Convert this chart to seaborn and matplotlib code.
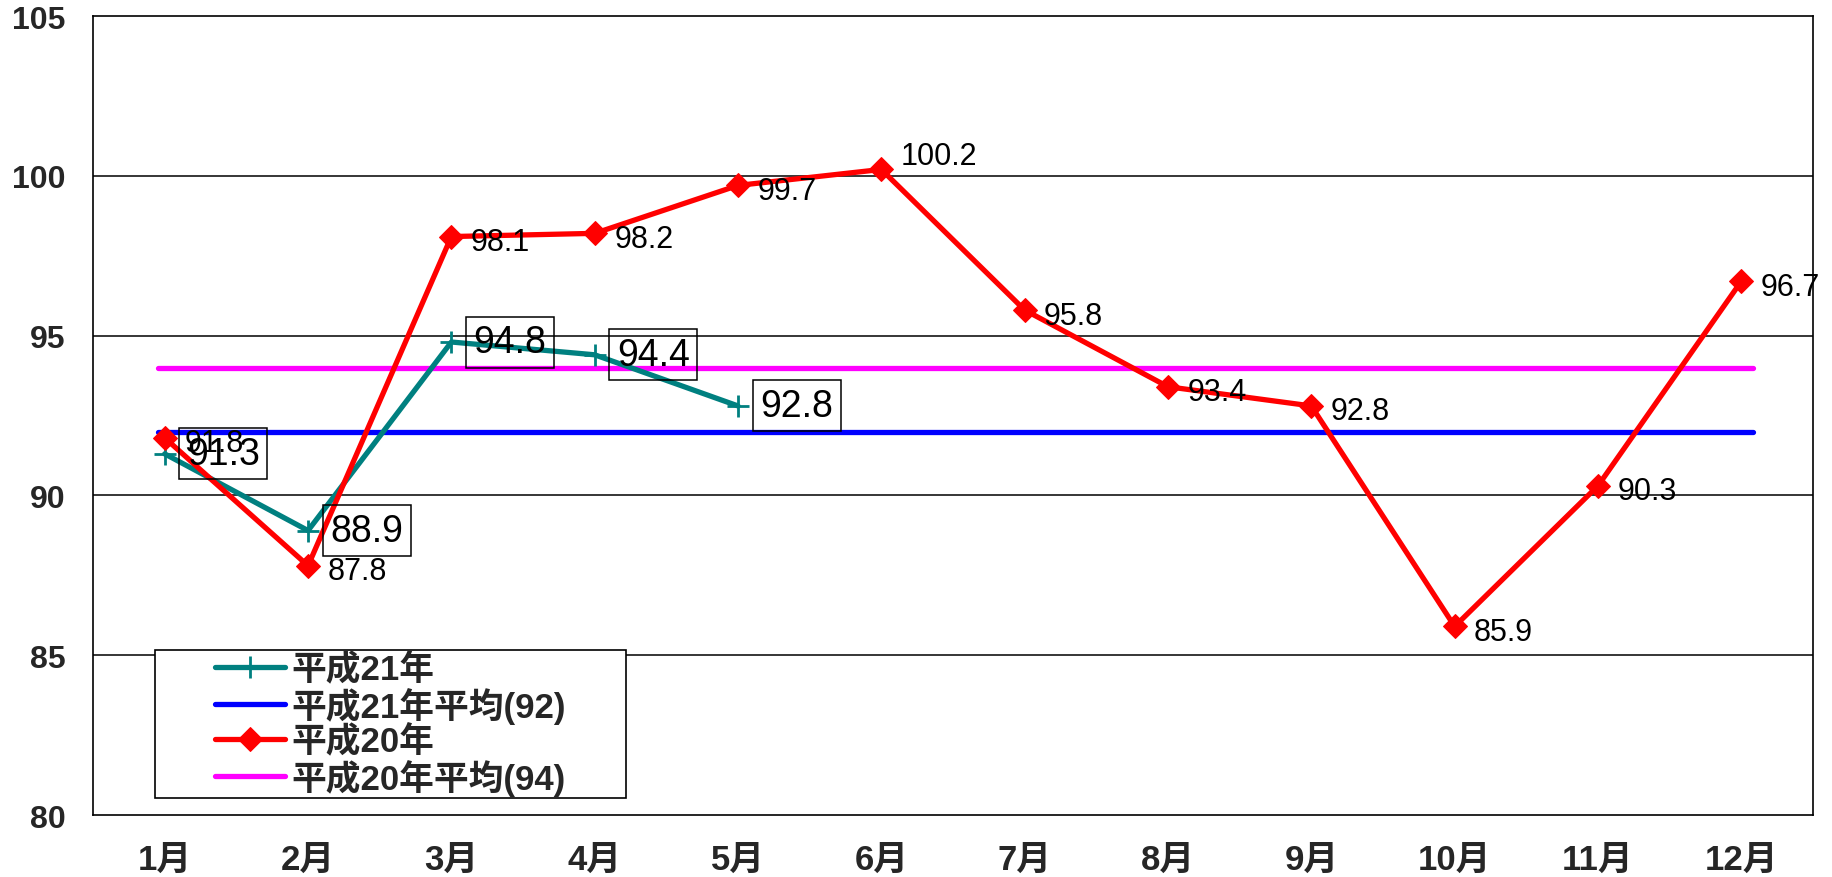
import numpy as np
import pandas as pd
import matplotlib
matplotlib.use('Agg')
import matplotlib.pyplot as plt
from matplotlib.patches import Rectangle
import seaborn as sns

# data
months = ['1月', '2月', '3月', '4月', '5月', '6月', '7月', '8月', '9月', '10月', '11月', '12月']
h21 = [91.3, 88.9, 94.8, 94.4, 92.8]
h20 = [91.8, 87.8, 98.1, 98.2, 99.7, 100.2, 95.8, 93.4, 92.8, 85.9, 90.3, 96.7]
h21_avg = 92
h20_avg = 94
yticks = [80, 85, 90, 95, 100, 105]

sns.set_theme(style='white')
plt.rcParams['font.family'] = ['Liberation Sans', 'Noto Sans CJK JP', 'DejaVu Sans']

fig = plt.figure(figsize=(18.32, 8.78), dpi=100)
ax = fig.add_axes([0.0508, 0.0706, 0.9388, 0.91])

x_all = np.arange(len(months))
df20 = pd.DataFrame({'x': x_all, 'y': h20})
df21 = pd.DataFrame({'x': x_all[:len(h21)], 'y': h21})
avg_x = [x_all[0] - 0.05, x_all[-1] + 0.08]

# gridlines
for v in yticks[1:-1]:
    ax.axhline(v, color='black', lw=1.1, zorder=1)

sns.lineplot(x=avg_x, y=[h21_avg] * 2, color='#0000FF', lw=3.8, ax=ax, zorder=2,
             label='平成21年平均(92)')
sns.lineplot(x=avg_x, y=[h20_avg] * 2, color='#FF00FF', lw=3.8, ax=ax, zorder=2,
             label='平成20年平均(94)')
sns.lineplot(data=df21, x='x', y='y', color='#008080', lw=3.8, marker='+', ms=16, mew=2,
             mec='#008080', ax=ax, zorder=3, label='平成21年')
sns.lineplot(data=df20, x='x', y='y', color='#FF0000', lw=3.8, marker='D', ms=12,
             mec='#FF0000', ax=ax, zorder=4, label='平成20年')

# value labels
for xi, v in zip(x_all, h20):
    dy = 10 if v == max(h20) else -4
    ax.annotate(f'{v:.1f}', (xi, v), xytext=(14, dy), textcoords='offset points',
                ha='left', va='center', fontsize=22, color='black', zorder=6)
for xi, v in zip(x_all, h21):
    ax.annotate(f'{v:.1f}', (xi, v), xytext=(16, 0), textcoords='offset points',
                ha='left', va='center', fontsize=27, color='black', zorder=6,
                bbox=dict(boxstyle='square,pad=0.2', fc='none', ec='black', lw=1.1))

ax.set_xlim(-0.5, 11.5)
ax.set_ylim(80, 105)
ax.set_yticks(yticks)
ax.set_yticklabels([str(t) for t in yticks], fontsize=23, fontweight='bold')
ax.set_xticks(x_all)
ax.set_xticklabels(months, fontsize=25, fontweight='bold')
ax.set_xticks(x_all[:-1] + 0.5, minor=True)
ax.tick_params(axis='x', which='major', length=0, pad=20)
ax.tick_params(axis='x', which='minor', direction='in', length=8, width=1.2, color='black')
ax.tick_params(axis='y', length=0, pad=20)
ax.set_xlabel('')
ax.set_ylabel('')
for s in ax.spines.values():
    s.set_color('black')
    s.set_linewidth(1.2)

# legend with a wide frame
handles, labels = ax.get_legend_handles_labels()
order = ['平成21年', '平成21年平均(92)', '平成20年', '平成20年平均(94)']
hmap = dict(zip(labels, handles))
bx, by, bw, bh = 0.036, 0.021, 0.274, 0.186
ax.add_patch(Rectangle((bx, by), bw, bh, transform=ax.transAxes, fill=True, fc='white',
                       ec='black', lw=1.2, zorder=7))
leg = ax.legend([hmap[k] for k in order], order, loc='center',
                bbox_to_anchor=(bx + bw / 2, by + bh / 2), frameon=False,
                prop={'size': 25, 'weight': 'bold'}, handlelength=2.0, handletextpad=0.2,
                labelspacing=0.02, borderpad=0)
leg.set_zorder(8)

fig.savefig('out.png', dpi=100)
